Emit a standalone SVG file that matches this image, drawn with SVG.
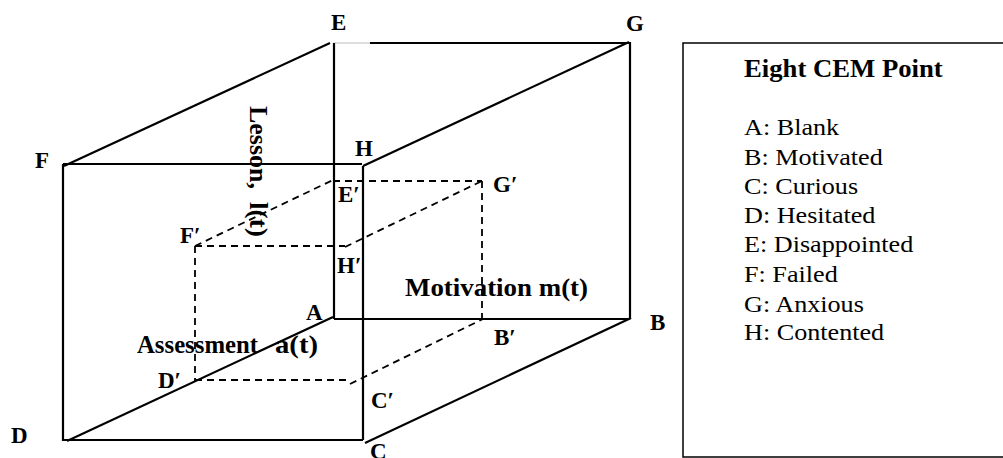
<svg xmlns="http://www.w3.org/2000/svg" width="1003" height="458" viewBox="0 0 1003 458">
  <style>
    .solid { stroke: #000; stroke-width: 2.2; fill: none; stroke-linecap: butt; }
    .dash { stroke: #000; stroke-width: 1.8; fill: none; stroke-dasharray: 7 5; }
    .lbl { font-family: "Liberation Serif", "Times New Roman", serif; font-weight: bold; font-size: 23px; fill: #000; }
    .axis { font-family: "Liberation Serif", "Times New Roman", serif; font-weight: bold; font-size: 25px; fill: #000; }
    .leg { font-family: "Liberation Serif", "Times New Roman", serif; font-size: 24px; fill: #000; }
    .legt { font-family: "Liberation Serif", "Times New Roman", serif; font-size: 24.5px; font-weight: bold; fill: #000; }
  </style>
  <rect width="1003" height="458" fill="#fff"/>

  <g id="connectors">
    <g id="outer-cube">
      <line class="solid" x1="334" y1="43" x2="370" y2="43" style="stroke:#bbb;stroke-width:1.2"/>
      <line class="solid" x1="370" y1="43" x2="630" y2="43"/>
      <line class="solid" x1="64" y1="166" x2="330" y2="43"/>
      <line class="solid" x1="334" y1="43" x2="334" y2="319"/>
      <line class="solid" x1="63" y1="164" x2="362" y2="164"/>
      <line class="solid" x1="363" y1="166" x2="629" y2="42"/>
      <line class="solid" x1="630" y1="42" x2="630" y2="319"/>
      <line class="solid" x1="63" y1="164" x2="63" y2="441"/>
      <line class="solid" x1="363" y1="166" x2="363" y2="440"/>
      <line class="solid" x1="63" y1="440" x2="363" y2="440"/>
      <line class="solid" x1="67" y1="441" x2="333" y2="317"/>
      <line class="solid" x1="334" y1="319" x2="630" y2="319"/>
      <line class="solid" x1="365" y1="443" x2="631" y2="318"/>
    </g>
    <g id="inner-cube">
      <line class="dash" x1="333" y1="181" x2="482" y2="181"/>
      <line class="dash" x1="482" y1="181" x2="482" y2="319"/>
      <line class="dash" x1="195" y1="246" x2="333" y2="180"/>
      <line class="dash" x1="195" y1="246" x2="345" y2="246"/>
      <line class="dash" x1="345" y1="247" x2="482" y2="181"/>
      <line class="dash" x1="195" y1="246" x2="195" y2="381"/>
      <line class="dash" x1="195" y1="380" x2="350" y2="380"/>
      <line class="dash" x1="350" y1="384" x2="483" y2="319"/>
    </g>
  </g>

  <g id="node-E"><text class="lbl" x="331" y="30">E</text></g>
  <g id="node-G"><text class="lbl" x="626" y="31">G</text></g>
  <g id="node-F"><text class="lbl" x="35" y="168">F</text></g>
  <g id="node-H"><text class="lbl" x="355" y="156">H</text></g>
  <g id="node-E2"><text class="lbl" x="338" y="202">E′</text></g>
  <g id="node-G2"><text class="lbl" x="493" y="192">G′</text></g>
  <g id="node-F2"><text class="lbl" x="180" y="243">F′</text></g>
  <g id="node-H2"><text class="lbl" x="337" y="273">H′</text></g>
  <g id="node-A"><text class="lbl" x="306" y="320">A</text></g>
  <g id="node-B"><text class="lbl" x="650" y="330">B</text></g>
  <g id="node-B2"><text class="lbl" x="494" y="345">B′</text></g>
  <g id="node-D2"><text class="lbl" x="158" y="388">D′</text></g>
  <g id="node-C2"><text class="lbl" x="371" y="408">C′</text></g>
  <g id="node-D"><text class="lbl" x="11" y="443">D</text></g>
  <g id="node-C"><text class="lbl" x="370" y="459">C</text></g>

  <g id="axis-motivation"><text class="axis" x="405" y="296" textLength="183" lengthAdjust="spacingAndGlyphs">Motivation m(t)</text></g>
  <g id="axis-assessment">
    <text class="axis" x="137" y="353" textLength="121" lengthAdjust="spacingAndGlyphs">Assessment</text>
    <text class="axis" x="275" y="353" textLength="43" lengthAdjust="spacingAndGlyphs">a(t)</text>
  </g>
  <g id="axis-lesson" transform="translate(250 106) rotate(90)">
    <text class="axis" x="0" y="0" font-size="24" textLength="83" lengthAdjust="spacingAndGlyphs">Lesson,</text>
    <text class="axis" x="96" y="0" font-size="24" textLength="35" lengthAdjust="spacingAndGlyphs">l(t)</text>
  </g>

  <g id="legend">
    <rect x="683" y="43" width="330" height="414" fill="none" stroke="#000" stroke-width="1.5"/>
    <g transform="translate(744 0) scale(1.09 1)">
      <text class="legt" x="0" y="77">Eight CEM Point</text>
      <text class="leg" x="0" y="135">A: Blank</text>
      <text class="leg" x="0" y="165">B: Motivated</text>
      <text class="leg" x="0" y="194">C: Curious</text>
      <text class="leg" x="0" y="223">D: Hesitated</text>
      <text class="leg" x="0" y="252">E: Disappointed</text>
      <text class="leg" x="0" y="282">F: Failed</text>
      <text class="leg" x="0" y="312">G: Anxious</text>
      <text class="leg" x="0" y="340">H: Contented</text>
    </g>
  </g>
</svg>
